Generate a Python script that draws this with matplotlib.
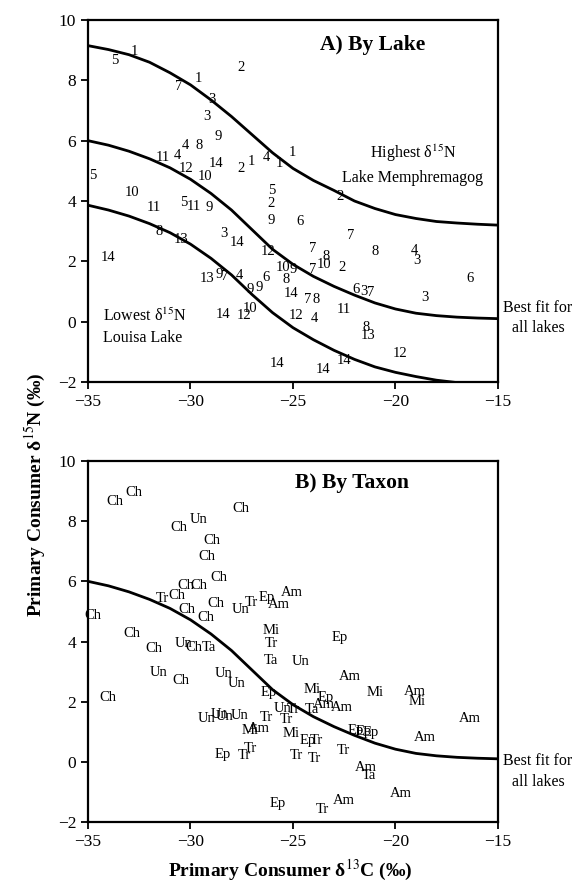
import matplotlib
matplotlib.use("Agg")
import matplotlib.pyplot as plt

plt.rcParams['font.family'] = ['Liberation Serif', 'DejaVu Serif']
plt.rcParams['mathtext.fontset'] = 'stix'

# ---- data: primary consumer isotope values (same points in both panels) ----
d13c = [-33.7, -32.75, -30.57, -29.6, -27.55, -28.95, -29.22, -28.63, -30.24, -29.6,
        -31.35, -30.65, -30.2, -29.27, -28.77, -27.55, -27.05, -26.3, -25.68, -25.05,
        -34.75, -32.87, -26.05, -26.05, -31.8, -30.32, -29.84, -29.1, -26.08, -24.65,
        -31.55, -30.48, -28.38, -27.74, -26.2, -24.06, -34.03, -25.5, -24.99, -24.06,
        -29.2, -28.6, -28.35, -27.61, -26.3, -25.32, -27.1, -26.65, -25.1, -24.3,
        -23.85, -28.42, -27.37, -27.1, -24.84, -23.95, -25.76, -23.55, -22.72, -22.21,
        -20.98, -19.06, -18.93, -16.37, -23.39, -23.5, -22.61, -21.95, -21.55, -21.22,
        -18.58, -22.53, -21.45, -21.32, -19.76, -22.5]
d15n = [8.67, 8.94, 7.8, 8.06, 8.42, 7.36, 6.81, 6.13, 5.85, 5.85,
        5.44, 5.52, 5.08, 4.8, 5.25, 5.08, 5.3, 5.45, 5.24, 5.62,
        4.86, 4.27, 4.36, 3.92, 3.78, 3.95, 3.81, 3.8, 3.37, 3.32,
        2.98, 2.71, 2.93, 2.62, 2.32, 2.41, 2.13, 1.78, 1.73, 1.73,
        1.44, 1.58, 1.5, 1.53, 1.48, 1.4, 1.05, 1.12, 0.93, 0.72,
        0.72, 0.23, 0.22, 0.45, 0.22, 0.11, -1.38, -1.6, 4.14, 2.84,
        2.32, 2.35, 2.02, 1.44, 2.15, 1.91, 1.8, 1.05, 1.0, 0.96,
        0.8, 0.39, -0.2, -0.45, -1.05, -1.3]
lake = ["5", "1", "7", "1", "2", "3", "3", "9", "4", "8",
        "11", "4", "12", "10", "14", "2", "1", "4", "1", "1",
        "5", "10", "5", "2", "11", "5", "11", "9", "9", "6",
        "8", "13", "3", "14", "12", "7", "14", "10", "9", "7",
        "13", "9", "7", "4", "6", "8", "9", "9", "14", "7",
        "8", "14", "12", "10", "12", "4", "14", "14", "2", "7",
        "8", "4", "3", "6", "8", "10", "2", "6", "3", "7",
        "3", "11", "8", "13", "12", "14"]
taxon = ["Ch", "Ch", "Ch", "Un", "Ch", "Ch", "Ch", "Ch", "Ch", "Ch",
         "Tr", "Ch", "Ch", "Ch", "Ch", "Un", "Tr", "Ep", "Am", "Am",
         "Ch", "Ch", "Mi", "Tr", "Ch", "Un", "Ch", "Ta", "Ta", "Un",
         "Un", "Ch", "Un", "Un", "Ep", "Mi", "Ch", "Un", "Tr", "Ta",
         "Un", "Un", "Un", "Un", "Tr", "Tr", "Mi", "Am", "Mi", "Ep",
         "Tr", "Ep", "Tr", "Tr", "Tr", "Tr", "Ep", "Tr", "Ep", "Am",
         "Mi", "Am", "Mi", "Am", "Ep", "Am", "Am", "Ep", "Ep", "Ep",
         "Am", "Tr", "Am", "Ta", "Am", "Am"]

# ---- fitted curves ----
curve_x = [-35, -34, -33, -32, -31, -30, -29, -28, -27, -26, -25,
           -24, -23, -22, -21, -20, -19, -18, -17, -16, -15]
fit_all = [6.0, 5.85, 5.65, 5.4, 5.1, 4.72, 4.25, 3.7, 3.05, 2.4, 1.9,
           1.5, 1.17, 0.88, 0.62, 0.42, 0.28, 0.2, 0.15, 0.12, 0.1]
fit_high = [9.15, 9.02, 8.85, 8.6, 8.25, 7.85, 7.35, 6.8, 6.2, 5.6, 5.08,
            4.68, 4.35, 4.0, 3.75, 3.55, 3.42, 3.32, 3.27, 3.23, 3.2]
fit_low = [3.86, 3.7, 3.5, 3.25, 2.95, 2.57, 2.1, 1.55, 0.9, 0.3, -0.2,
           -0.6, -0.95, -1.25, -1.5, -1.68, -1.82, -1.94, -2.02, -2.06, -2.08]

x_ticks = [-35, -30, -25, -20, -15]
y_ticks = [-2, 0, 2, 4, 6, 8, 10]

fig = plt.figure(figsize=(5.8, 8.96), dpi=100)
axA = fig.add_axes([88/580, 1-382/896, 410/580, 362/896])
axB = fig.add_axes([88/580, 1-822/896, 410/580, 361/896])

for ax in (axA, axB):
    ax.set_xlim(-35, -15)
    ax.set_ylim(-2, 10)
    ax.set_xticks(x_ticks)
    ax.set_yticks(y_ticks)
    ax.set_xticklabels(["\u2212" + str(abs(v)) for v in x_ticks])
    ax.set_yticklabels([("\u2212" + str(abs(v))) if v < 0 else str(v) for v in y_ticks])
    ax.tick_params(direction='out', length=5, width=1.3, labelsize=12.5, colors='black')
    for s in ax.spines.values():
        s.set_linewidth(1.6)
    ax.plot(curve_x, fit_all, color='black', lw=2.0, clip_on=True)
    ax.text(-13.05, 0.44 if ax is axA else 0.03, "Best fit for", ha='center', va='center',
            fontsize=11.5, clip_on=False)
    ax.text(-13.05, -0.22 if ax is axA else -0.67, "all lakes", ha='center', va='center',
            fontsize=11.5, clip_on=False)

axA.plot(curve_x, fit_high, color='black', lw=2.0)
axA.plot(curve_x, fit_low, color='black', lw=2.0)

for x, y, s in zip(d13c, d15n, lake):
    axA.text(x, y, s, ha='center', va='center', fontsize=10.5)
for x, y, s in zip(d13c, d15n, taxon):
    axB.text(x, y, s, ha='center', va='center', fontsize=10.5)

axA.text(-23.7, 9.16, "A) By Lake", ha='left', va='center', fontsize=15.5, fontweight='bold')
axB.text(-24.9, 9.26, "B) By Taxon", ha='left', va='center', fontsize=15.5, fontweight='bold')

axA.text(-19.15, 5.58, "Highest \u03b4$^{15}$N", ha='center', va='center', fontsize=11.5)
axA.text(-19.15, 4.75, "Lake Memphremagog", ha='center', va='center', fontsize=11.5)
axA.text(-34.29, 0.17, "Lowest \u03b4$^{15}$N", ha='left', va='center', fontsize=11.5)
axA.text(-34.29, -0.53, "Louisa Lake", ha='left', va='center', fontsize=11.5)

fig.text(0.5, 1-870/896, "Primary Consumer \u03b4$^{13}$C (\u2030)", ha='center', va='center',
         fontsize=14, fontweight='bold')
fig.text(35/580, 1-495/896, "Primary Consumer \u03b4$^{15}$N (\u2030)", ha='center', va='center',
         rotation=90, fontsize=14, fontweight='bold')

fig.savefig("out.png", dpi=100)
